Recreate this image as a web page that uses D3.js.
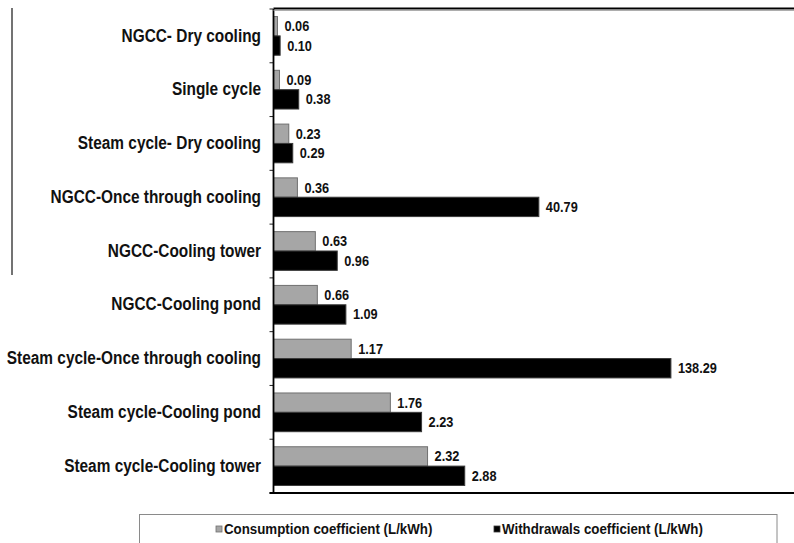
<!DOCTYPE html>
<html>
<head>
<meta charset="utf-8">
<script src="https://cdn.jsdelivr.net/npm/d3@7"></script>
<style>
  html, body { margin: 0; padding: 0; background: #fff; }
  svg { display: block; }
  text { font-family: "Liberation Sans", Arial, sans-serif; font-weight: bold; fill: #111; }
</style>
</head>
<body>
<svg id="chart" width="794" height="543"></svg>
<script>
const categories = [
  "NGCC- Dry cooling",
  "Single cycle",
  "Steam cycle- Dry cooling",
  "NGCC-Once through cooling",
  "NGCC-Cooling tower",
  "NGCC-Cooling pond",
  "Steam cycle-Once through cooling",
  "Steam cycle-Cooling pond",
  "Steam cycle-Cooling tower"
];
const consumption = [0.06, 0.09, 0.23, 0.36, 0.63, 0.66, 1.17, 1.76, 2.32];
const withdrawals = [0.10, 0.38, 0.29, 40.79, 0.96, 1.09, 138.29, 2.23, 2.88];
const seriesNames = ["Consumption coefficient (L/kWh)", "Withdrawals coefficient (L/kWh)"];
// broken value axis: linear up to 3, compressed above
const axisBreaks = [0, 3, 40, 140];
const axisBreakUnits = [0, 3, 3.98, 6.02];

(function() {
const svg = d3.select("#chart");
const mLeft = 273.5, mTop = 9, mBottom = 493, mRight = 800;
const unitPx = 66.4;

const x = d3.scaleLinear()
  .domain(axisBreaks)
  .range(axisBreakUnits.map(u => mLeft + u * unitPx));

const y = d3.scaleBand()
  .domain(categories)
  .range([mTop, mBottom])
  .paddingInner(0.28)
  .paddingOuter(0.14);

const ySub = d3.scaleBand()
  .domain(seriesNames)
  .range([0, y.bandwidth()]);

const color = d3.scaleOrdinal().domain(seriesNames).range(["#a6a6a6", "#000000"]);
const strokeC = d3.scaleOrdinal().domain(seriesNames).range(["#707070", "#3a3a3a"]);

function squeeze(sel, f) {
  sel.each(function() {
    const len = this.getComputedTextLength();
    d3.select(this).attr("textLength", len * f).attr("lengthAdjust", "spacingAndGlyphs");
  });
}

// stray left rule
svg.append("line").attr("x1", 12).attr("x2", 12).attr("y1", 8).attr("y2", 275)
  .attr("stroke", "#444").attr("stroke-width", 1.5);

const rows = categories.map((c, i) => ({ cat: c, vals: [consumption[i], withdrawals[i]] }));

const g = svg.append("g");
const groups = g.selectAll("g.row").data(rows).join("g")
  .attr("class", "row")
  .attr("transform", d => `translate(0,${y(d.cat)})`);

groups.selectAll("rect").data(d => d.vals.map((v, k) => ({ v, s: seriesNames[k] }))).join("rect")
  .attr("x", x(0))
  .attr("y", d => ySub(d.s))
  .attr("width", d => x(d.v) - x(0))
  .attr("height", ySub.bandwidth())
  .attr("fill", d => color(d.s))
  .attr("stroke", d => strokeC(d.s))
  .attr("stroke-width", 1);

const vlabels = groups.selectAll("text.val").data(d => d.vals.map((v, k) => ({ v, s: seriesNames[k] }))).join("text")
  .attr("class", "val")
  .attr("x", d => x(d.v) + 7)
  .attr("y", d => ySub(d.s) + ySub.bandwidth() / 2 + 1)
  .attr("dominant-baseline", "middle")
  .style("font-size", "15px")
  .text(d => d.v.toFixed(2));
squeeze(vlabels, 0.85);

// category labels
const clabels = svg.append("g").selectAll("text").data(categories).join("text")
  .attr("x", 261)
  .attr("y", d => y(d) + y.bandwidth() / 2 + 1)
  .attr("text-anchor", "end")
  .attr("dominant-baseline", "middle")
  .style("font-size", "17.5px")
  .text(d => d);
squeeze(clabels, 0.88);

// axes / frame
const boundaries = [mTop].concat(categories.map(c => y(c) + y.bandwidth() + y.step() * y.paddingInner() / 2));
svg.append("g").selectAll("line").data(boundaries).join("line")
  .attr("x1", mLeft - 4).attr("x2", mLeft).attr("y1", d => d).attr("y2", d => d)
  .attr("stroke", "#222").attr("stroke-width", 1);
svg.append("line").attr("x1", mLeft).attr("x2", mLeft).attr("y1", mTop).attr("y2", mBottom)
  .attr("stroke", "#000").attr("stroke-width", 1.8);
svg.append("line").attr("x1", mLeft).attr("x2", mRight).attr("y1", mTop - 0.5).attr("y2", mTop - 0.5)
  .attr("stroke", "#000").attr("stroke-width", 2);
svg.append("line").attr("x1", mLeft).attr("x2", mRight).attr("y1", mTop + 1.3).attr("y2", mTop + 1.3)
  .attr("stroke", "#999").attr("stroke-width", 1);
svg.append("line").attr("x1", mLeft - 4).attr("x2", mRight).attr("y1", mBottom).attr("y2", mBottom)
  .attr("stroke", "#000").attr("stroke-width", 2);

// legend
svg.append("rect").attr("x", 139.5).attr("y", 514.5).attr("width", 637.5).attr("height", 60)
  .attr("fill", "none").attr("stroke", "#8a8a8a").attr("stroke-width", 1);
const legX = [216, 494];
const leg = svg.append("g").selectAll("g").data(seriesNames).join("g")
  .attr("transform", (d, i) => `translate(${legX[i]},529)`);
leg.append("rect").attr("x", 0).attr("y", -3).attr("width", 6).attr("height", 6)
  .attr("fill", d => color(d)).attr("stroke", d => strokeC(d)).attr("stroke-width", 0.8);
const ltexts = leg.append("text").attr("x", 8).attr("y", 1).attr("dominant-baseline", "middle")
  .style("font-size", "14px").text(d => d);
squeeze(ltexts, 0.95);
})();
</script>
</body>
</html>
